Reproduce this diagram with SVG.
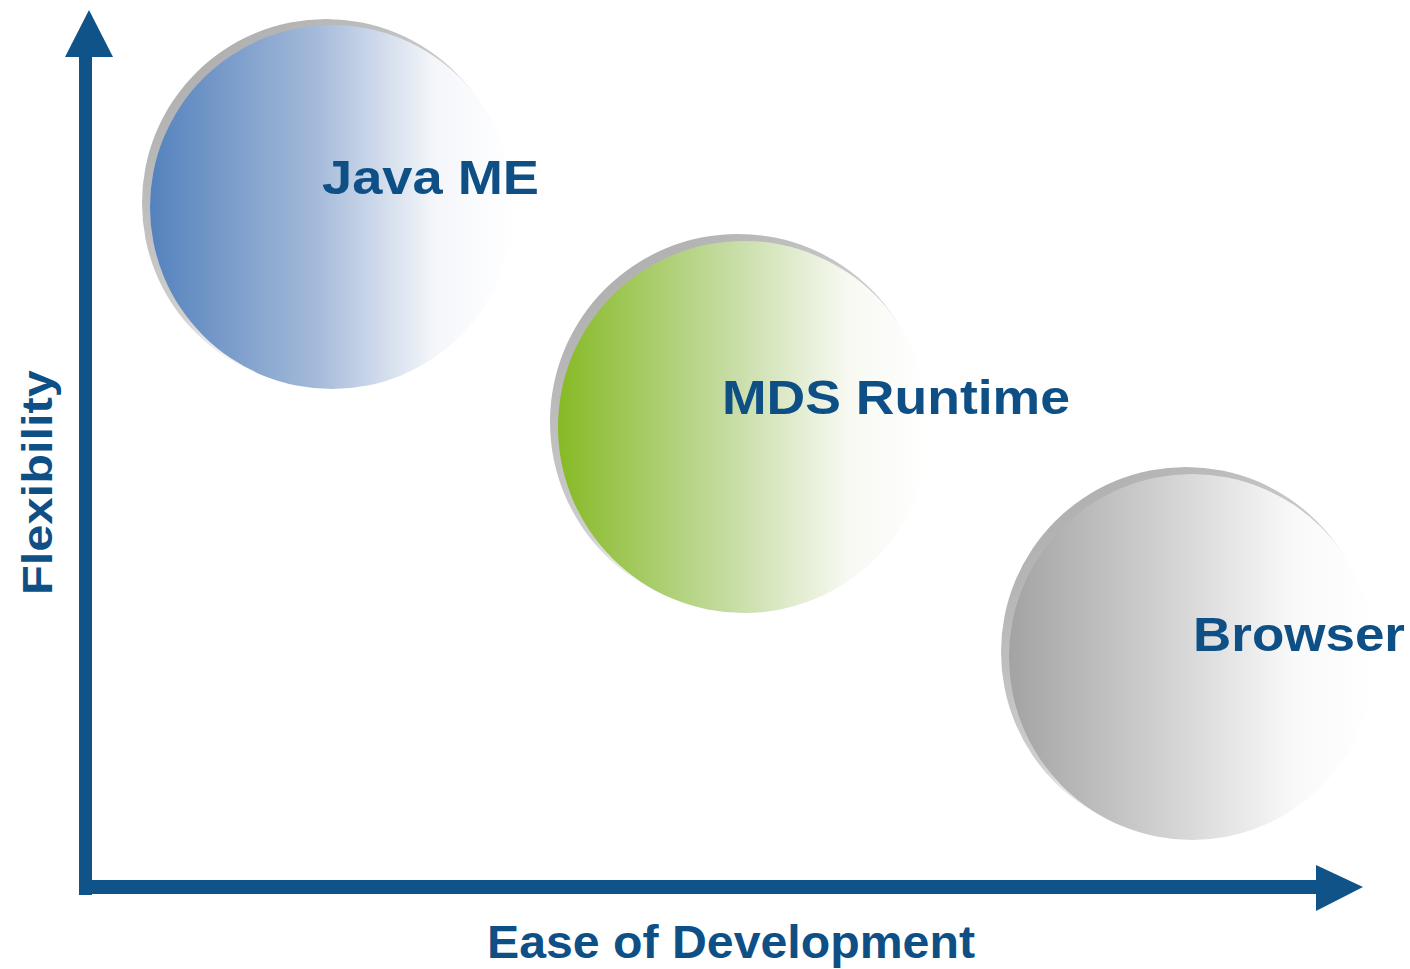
<svg xmlns="http://www.w3.org/2000/svg" width="1410" height="969" viewBox="0 0 1410 969">
<defs>
<linearGradient id="gBlue" x1="0" y1="0" x2="1" y2="0">
<stop offset="0" stop-color="#5482bd"/>
<stop offset="0.45" stop-color="#a3b9d9"/>
<stop offset="0.78" stop-color="#f4f6fa"/>
<stop offset="1" stop-color="#ffffff"/>
</linearGradient>
<linearGradient id="gGreen" x1="0" y1="0" x2="1" y2="0">
<stop offset="0" stop-color="#86ba25"/>
<stop offset="0.45" stop-color="#c4dba0"/>
<stop offset="0.78" stop-color="#f7f9f2"/>
<stop offset="1" stop-color="#ffffff"/>
</linearGradient>
<linearGradient id="gGray" x1="0" y1="0" x2="1" y2="0">
<stop offset="0" stop-color="#a3a3a3"/>
<stop offset="0.45" stop-color="#d4d4d4"/>
<stop offset="0.78" stop-color="#f9f9f9"/>
<stop offset="1" stop-color="#ffffff"/>
</linearGradient>
<linearGradient id="gRim" x1="0.1" y1="0" x2="0.9" y2="1">
<stop offset="0" stop-color="#a8a8a8"/>
<stop offset="0.5" stop-color="#d0d0d0"/>
<stop offset="0.75" stop-color="#ffffff" stop-opacity="0"/>
</linearGradient>
<style>
.lbl{font-family:"Liberation Sans",Arial,sans-serif;font-weight:bold;fill:#0e4f86;}
.axis{fill:#0f5388;}
</style>
</defs>
<rect width="1410" height="969" fill="#ffffff"/>

<g id="java-me">
<circle cx="326" cy="203" r="184" fill="url(#gRim)"/>
<circle cx="332" cy="207" r="182" fill="url(#gBlue)"/>
<text class="lbl" x="322" y="194" font-size="48" textLength="217" lengthAdjust="spacingAndGlyphs">Java ME</text>
</g>

<g id="mds-runtime">
<circle cx="738" cy="422" r="188" fill="url(#gRim)"/>
<circle cx="744" cy="427" r="186" fill="url(#gGreen)"/>
<text class="lbl" x="722" y="414" font-size="48" textLength="348" lengthAdjust="spacingAndGlyphs">MDS Runtime</text>
</g>

<g id="browser">
<circle cx="1186" cy="652" r="185" fill="url(#gRim)"/>
<circle cx="1192" cy="657" r="183" fill="url(#gGray)"/>
<text class="lbl" x="1193" y="651" font-size="48" textLength="212" lengthAdjust="spacingAndGlyphs">Browser</text>
</g>

<g id="connectors">
<rect class="axis" x="79" y="54" width="13" height="841"/>
<polygon class="axis" points="65,57 113,57 89,10"/>
<rect class="axis" x="79" y="880" width="1240" height="14"/>
<polygon class="axis" points="1316,865 1316,911 1363,887"/>
</g>

<g id="axis-labels">
<text class="lbl" x="0" y="0" font-size="42" transform="translate(52,595) rotate(-90)" textLength="225" lengthAdjust="spacingAndGlyphs">Flexibility</text>
<text class="lbl" x="487" y="958" font-size="46" textLength="488" lengthAdjust="spacingAndGlyphs">Ease of Development</text>
</g>
</svg>
